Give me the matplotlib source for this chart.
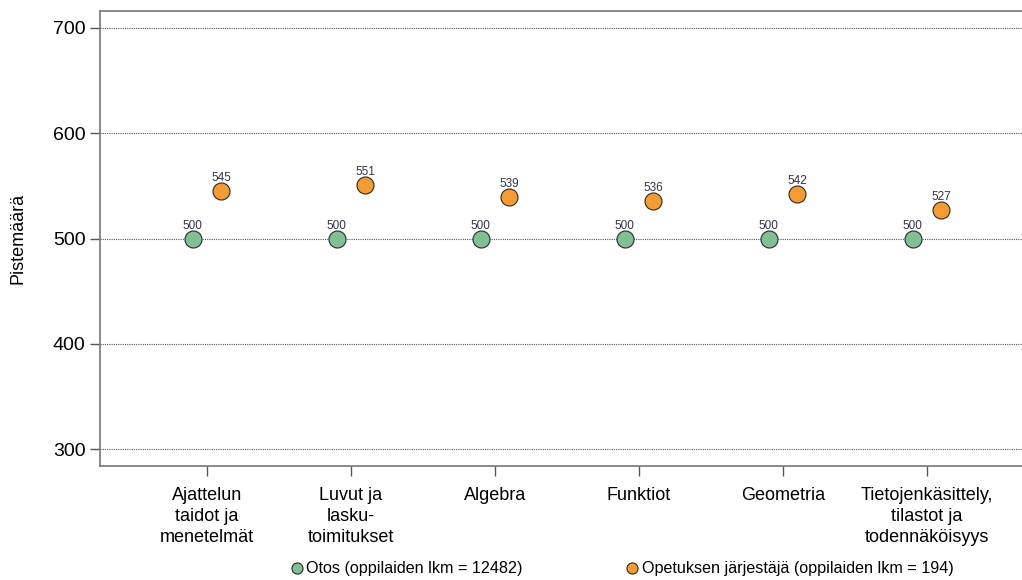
import numpy as np
import matplotlib
matplotlib.use("Agg")
import matplotlib.pyplot as plt
from matplotlib.lines import Line2D

plt.rcParams['font.family'] = ['Liberation Sans', 'DejaVu Sans']

categories = ['Ajattelun\ntaidot ja\nmenetelmät', 'Luvut ja\nlasku-\ntoimitukset', 'Algebra',
              'Funktiot', 'Geometria', 'Tietojenkäsittely,\ntilastot ja\ntodennäköisyys']
otos = [500, 500, 500, 500, 500, 500]
jarjestaja = [545, 551, 539, 536, 542, 527]
legend_labels = ['Otos (oppilaiden lkm = 12482)', 'Opetuksen järjestäjä (oppilaiden lkm = 194)']

GREEN = '#80c194'
ORANGE = '#f39c34'
EDGE = '#2a2a2a'

fig = plt.figure(figsize=(10.22, 5.8), dpi=100)
ax = fig.add_axes([100/1022, 1 - 466/580, 925/1022, 455/580])

x = np.arange(len(categories))
off = 0.1
ax.scatter(x - off, otos, s=150, color=GREEN, edgecolor=EDGE, linewidth=0.8, zorder=3)
ax.scatter(x + off, jarjestaja, s=150, color=ORANGE, edgecolor=EDGE, linewidth=0.8, zorder=3)

for xi, v in zip(x - off, otos):
    ax.annotate(str(v), (xi, v), xytext=(0, 5), textcoords='offset points',
                ha='center', va='bottom', fontsize=8.5, color='#333344')
for xi, v in zip(x + off, jarjestaja):
    ax.annotate(str(v), (xi, v), xytext=(0, 5), textcoords='offset points',
                ha='center', va='bottom', fontsize=8.5, color='#333344')

ax.set_xlim(-0.743, 5.68)
ax.set_ylim(284, 716)
ax.set_yticks([300, 400, 500, 600, 700])
ax.set_xticks(x)
ax.set_xticklabels(categories, fontsize=13, linespacing=1.3)
ax.tick_params(axis='y', labelsize=14, length=7, color='#555555', width=1)
ax.tick_params(axis='x', length=7, color='#555555', width=1, pad=8)
ax.yaxis.grid(True, linestyle=(0, (1, 1)), color='#555555', linewidth=0.8)
ax.set_axisbelow(True)
ax.set_ylabel('Pistemäärä', fontsize=13, labelpad=19)

for side in ['left', 'bottom', 'top']:
    ax.spines[side].set_color('#777777')
    ax.spines[side].set_linewidth(1.2)
ax.spines['right'].set_visible(False)

handles = [Line2D([], [], marker='o', linestyle='', markersize=8, markerfacecolor=GREEN,
                  markeredgecolor=EDGE, markeredgewidth=0.8),
           Line2D([], [], marker='o', linestyle='', markersize=8, markerfacecolor=ORANGE,
                  markeredgecolor=EDGE, markeredgewidth=0.8)]
fig.legend(handles, legend_labels, loc='center', bbox_to_anchor=(622/1022, 1 - 569/580),
           ncol=2, frameon=False, fontsize=11.6, handletextpad=0.2, columnspacing=6.4,
           handlelength=0.8, borderpad=0)

fig.savefig('out.png', dpi=100)
